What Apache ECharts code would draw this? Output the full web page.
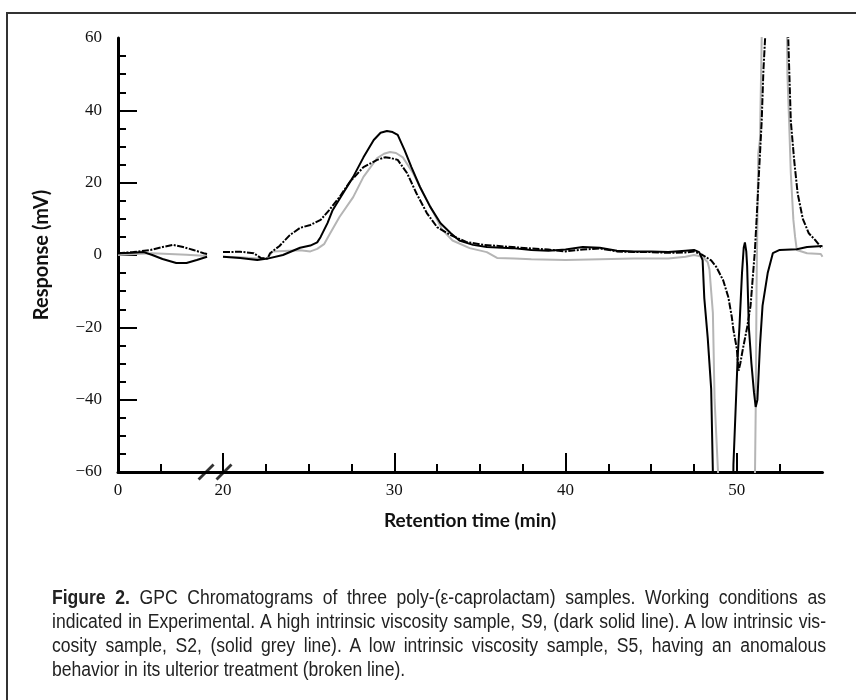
<!DOCTYPE html>
<html>
<head>
<meta charset="utf-8">
<script src="https://cdn.jsdelivr.net/npm/echarts@6/dist/echarts.min.js"></script>
<style>
  html, body { margin: 0; padding: 0; background: #fff; overflow: hidden; }
  #wrap { position: relative; width: 856px; height: 700px; overflow: hidden; }
  #frame { position: absolute; left: 6px; top: 12px; width: 900px; height: 800px; border: 2px solid #333; }
  #main { position: absolute; left: 0; top: 0; width: 856px; height: 700px; }
  #caption { position: absolute; left: 52px; top: 585px; width: 860px;
    transform: scaleX(0.9); transform-origin: 0 0;
    font-family: "Liberation Sans Narrow", "Liberation Sans", sans-serif; font-size: 19.5px;
    line-height: 24px; color: #222; }
  #caption div { text-align: justify; text-align-last: justify; white-space: nowrap; }
  #caption div.last { text-align-last: left; }
</style>
</head>
<body>
<div id="wrap">
  <div id="frame"></div>
  <div id="main"></div>
  <div id="caption">
    <div><b>Figure 2.</b> GPC Chromatograms of three poly-(ε-caprolactam) samples. Working conditions as</div>
    <div>indicated in Experimental. A high intrinsic viscosity sample, S9, (dark solid line). A low intrinsic vis-</div>
    <div>cosity sample, S2, (solid grey line). A low intrinsic viscosity sample, S5, having an anomalous</div>
    <div class="last">behavior in its ulterior treatment (broken line).</div>
  </div>
</div>
<script>
// retention time (min) / response (mV)
// left piece of the broken axis (0 - 5 min)
var s9Left = [[0,0.5],[0.8,0.6],[1.5,0.8],[2.0,0],[2.6,-1.1],[3.4,-2.2],[4.0,-2.2],[4.6,-1.4],[5.2,-0.5]];
var s2Left = [[0,0],[1,0.3],[2,0.5],[3,0.3],[4,0.1],[5.2,-0.3]];
var s5Left = [[0,0.5],[0.9,0.8],[1.9,1.4],[2.6,2.2],[3.2,2.8],[3.8,2.2],[4.4,1.4],[5.0,0.5],[5.2,0.3]];

// right piece (20 - 55 min)
var s9 = [[20,-0.5],[21,-0.8],[22,-1.4],[22.6,-1],[23.5,0],[24.5,2],[25.1,2.6],[25.5,3.5],[25.7,5],[26.1,8.8],
  [26.4,12.4],[27.0,17],[27.6,21.6],[28.2,27],[28.8,31.8],[29.2,33.8],[29.57,34.3],[29.9,34],[30.2,33.2],[30.6,29],
  [31.0,24.3],[31.5,18.8],[32.1,13.3],[32.7,8.8],[33.3,6],[33.8,4],[34.6,2.8],[35.4,2.2],[36.9,1.9],[38,1.4],
  [39,1.2],[40,1.5],[41,2.2],[42,2],[43,1.2],[44,1],[45,1],[46,0.8],[47,1.2],[47.5,1.4],[47.8,0.8],[48.0,-1.4],
  [48.1,-12],[48.3,-23],[48.5,-37],[48.6,-60],[48.65,-85],[49.75,-85],[49.8,-58],[49.95,-40],[50.05,-28],
  [50.15,-20],[50.3,-5],[50.4,2],[50.47,3.5],[50.55,1],[50.6,-3],[50.7,-20],[50.85,-30],[51.0,-38],[51.1,-42],
  [51.2,-40],[51.35,-25],[51.5,-14],[51.8,-5],[52.1,0.5],[52.5,1.4],[53.5,1.6],[54.1,2.2],[55,2.5]];
var s2 = [[20,-0.5],[21,-0.6],[22,-1],[22.6,-0.8],[22.9,1],[24.5,1.3],[25.1,1],[25.5,1.7],[25.9,3],[26.2,5.5],
  [26.8,10.5],[27.6,16],[28.2,21.6],[29.0,26.8],[29.4,28],[29.75,28.5],[30.1,28.2],[30.5,27],[31.1,22.6],[31.7,17],
  [32.3,11.6],[32.8,7],[33.4,4],[34.4,1.9],[35.4,0.8],[36,-0.8],[37,-1],[38,-1.2],[40,-1.4],[42,-1.2],[44,-1],
  [46,-1],[47,-0.5],[47.5,0],[48.0,-0.5],[48.3,-2],[48.4,-4],[48.6,-16],[48.7,-40],[48.9,-60],[48.95,-85],
  [51.0,-85],[51.1,-43],[51.15,-9],[51.25,28],[51.35,32],[51.45,60],[51.5,85],[52.3,100],[52.88,85],[52.95,50],
  [53.05,37],[53.15,22.6],[53.3,9.7],[53.4,5],[53.5,1.4],[54.1,0.5],[54.9,0.3],[55,-0.5]];
var s5 = [[20,0.8],[21,0.9],[21.8,0.5],[22.2,-0.8],[22.6,-1],[22.75,0.5],[23.3,2.5],[23.9,5.5],[24.5,7.5],[25.1,8.3],
  [25.7,9.7],[26.2,12.4],[26.8,16],[27.4,20.2],[28.2,24.3],[29.0,26.3],[29.45,27],[29.8,26.8],[30.2,26.3],
  [30.75,22.6],[31.3,17],[31.9,11.6],[32.5,7.7],[33.3,5.5],[34.2,3.6],[35.2,2.8],[36.9,2.2],[38,1.8],[39,1.5],
  [40,1],[41,1.5],[42,1.8],[43,1],[44,0.8],[45,0.8],[46,0.6],[47,0.7],[47.5,1],[48.0,0],[48.5,-1.5],[48.8,-3.3],
  [49.2,-7],[49.5,-11.6],[49.7,-17],[49.8,-20.7],[50.0,-26],[50.1,-32],[50.2,-30],[50.35,-26],[50.6,-20],
  [50.8,-14],[50.95,-5],[51.05,1],[51.15,9.7],[51.3,23.5],[51.45,37],[51.55,51],[51.65,60],[51.7,85],[52.3,100],
  [52.95,85],[53.0,60],[53.15,37],[53.35,26],[53.55,17],[53.85,10],[54.2,6],[54.6,4],[54.9,2.2],[55,2]];

// ticks
var yMajor = [-40, -20, 0, 20, 40];
var xMajor = [20, 30, 40, 50];
var xMinor = [22.5, 25, 27.5, 32.5, 35, 37.5, 42.5, 45, 47.5, 52.5];
var xLeftMinor = [2.5];
// axis break marks (//)
var breakLeft = [[5.14, -60]];
var breakRight = [[20.06, -60]];

var chart = echarts.init(document.getElementById('main'));

var axisLine = { onZero: false, lineStyle: { color: '#000', width: 3 } };
var tickLabel = { color: '#111', fontFamily: 'Liberation Serif', fontSize: 17 };
var slash = 'path://M0,15 L15,0 L17,2 L2,17 Z';
var broken = [7, 1.5, 2, 1.5];

function lineSeries(name, data, xi, color, type) {
  return {
    name: name, type: 'line', data: data, xAxisIndex: xi, yAxisIndex: xi === 0 ? 0 : 1,
    showSymbol: false, symbol: 'none', clip: true, animation: false,
    lineStyle: { color: color, width: 2, type: type || 'solid' }
  };
}

chart.setOption({
  animation: false,
  grid: [
    { left: 118, top: 38, width: 105, height: 434 },
    { left: 223, top: 38, width: 599.5, height: 434 }
  ],
  xAxis: [
    { type: 'value', gridIndex: 0, position: 'bottom', min: 0, max: 6.13, axisLine: axisLine, splitLine: { show: false },
      axisTick: { inside: true, length: 8, customValues: xLeftMinor, lineStyle: { color: '#000', width: 2 } },
      axisLabel: Object.assign({ customValues: [0], margin: 10 }, tickLabel) },
    { type: 'value', gridIndex: 1, position: 'bottom', min: 20, max: 55, interval: 10, axisLine: axisLine,
      splitLine: { show: false },
      axisTick: { inside: true, length: 19, customValues: xMajor, lineStyle: { color: '#000', width: 2 } },
      axisLabel: Object.assign({ customValues: xMajor, margin: 10 }, tickLabel) },
    { type: 'value', gridIndex: 1, position: 'bottom', offset: 0, min: 20, max: 55,
      axisLine: { show: false, onZero: false }, splitLine: { show: false },
      axisTick: { inside: true, length: 8, customValues: xMinor, lineStyle: { color: '#000', width: 2 } },
      axisLabel: { show: false } }
  ],
  yAxis: [
    { type: 'value', gridIndex: 0, min: -60, max: 60, interval: 20, axisLine: axisLine,
      splitLine: { show: false },
      axisTick: { inside: true, length: 19, customValues: yMajor, lineStyle: { color: '#000', width: 2 } },
      minorTick: { show: true, splitNumber: 4, length: 8, lineStyle: { color: '#000', width: 2 } },
      axisLabel: Object.assign({ margin: 16, formatter: function (v) { return String(v).replace('-', '\u2212'); } }, tickLabel),
      name: 'Response (mV)', nameLocation: 'middle', nameGap: 66,
      nameTextStyle: { fontFamily: 'Lato', fontWeight: 'bold', fontSize: 20, color: '#111' } },
    { type: 'value', gridIndex: 1, min: -60, max: 60, show: false }
  ],
  graphic: [{
    type: 'text', x: 470, y: 521,
    style: { text: 'Retention time (min)', font: 'bold 19px Lato', fill: '#111', textAlign: 'center', textVerticalAlign: 'middle' }
  }],
  series: [
    lineSeries('S2', s2Left, 0, '#b5b5b5'),
    lineSeries('S5', s5Left, 0, '#000', broken),
    lineSeries('S9', s9Left, 0, '#000'),
    lineSeries('S2', s2, 1, '#b5b5b5'),
    lineSeries('S5', s5, 2, '#000', broken),
    lineSeries('S9', s9, 1, '#000'),
    { type: 'scatter', xAxisIndex: 0, yAxisIndex: 0, data: breakLeft, symbol: slash, symbolSize: 17,
      clip: false, silent: true, itemStyle: { color: '#000' }, z: 5 },
    { type: 'scatter', xAxisIndex: 1, yAxisIndex: 1, data: breakRight, symbol: slash, symbolSize: 17,
      clip: false, silent: true, itemStyle: { color: '#000' }, z: 5 }
  ]
});
</script>
</body>
</html>
